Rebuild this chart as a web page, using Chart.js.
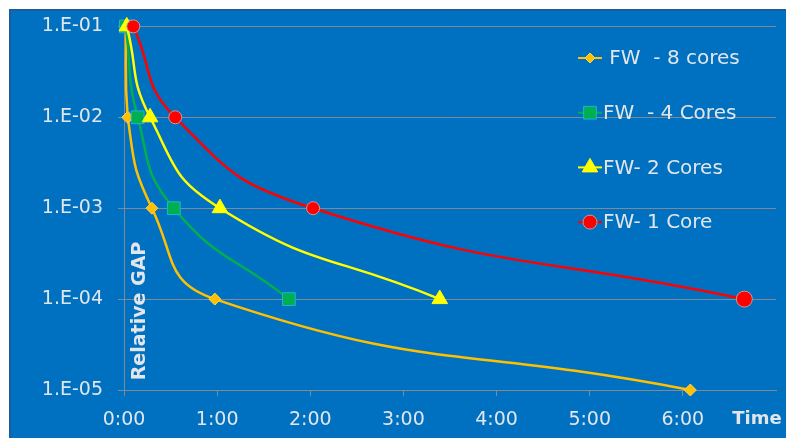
<!DOCTYPE html>
<html>
<head>
<meta charset="utf-8">
<script src="https://cdn.jsdelivr.net/npm/chart.js@4.4.1/dist/chart.umd.min.js"></script>
<style>
  html, body { margin: 0; padding: 0; background: #fff; }
  #wrap { position: relative; width: 786px; height: 438px; overflow: hidden; }
  #panel {
    position: absolute; left: 9px; top: 9px; width: 777px; height: 429px;
    box-sizing: border-box; background: #0070C0;
    border-left: 2px solid #1b5d9c; border-top: 2px solid #1b5d9c;
  }
  canvas { position: absolute; left: 0; top: 0; }
</style>
</head>
<body>
<div id="wrap">
  <div id="panel"></div>
  <canvas id="gapChart" width="786" height="438"></canvas>
</div>
<script>
// ── Data (time in hours, relative gap) ───────────────────────
const seriesNames = [' FW  - 8 cores', 'FW  - 4 Cores', 'FW- 2 Cores', 'FW- 1 Core'];
const time8 = [0.02, 0.04, 0.30, 0.975, 6.08];
const gap8  = [1e-1, 1e-2, 1e-3, 1e-4, 1e-5];
const time4 = [0.02, 0.147, 0.535, 1.77];
const gap4  = [1e-1, 1e-2, 1e-3, 1e-4];
const time2 = [0.03, 0.28, 1.03, 3.39];
const gap2  = [1e-1, 1e-2, 1e-3, 1e-4];
const time1 = [0.10, 0.55, 2.03, 6.66];
const gap1  = [1e-1, 1e-2, 1e-3, 1e-4];

const yTicks      = [1e-5, 1e-4, 1e-3, 1e-2, 1e-1];
const xTicks      = [0, 1, 2, 3, 4, 5, 6];
const xTickLabels = ['0:00', '1:00', '2:00', '3:00', '4:00', '5:00', '6:00'];

const TEXT = '#e2e6ea';
const GRID = '#7f8a96';
const FONT = '"DejaVu Sans", Verdana, sans-serif';

const pts = (xs, ys) => xs.map((x, i) => ({ x: x, y: ys[i] }));

// ── Legend + axis captions drawn on the canvas ───────────────
const legendRadius = [5, 9, 9, 7];
const captions = {
  id: 'captions',
  afterDatasetsDraw(chart) {
    const ctx = chart.ctx;
    chart.data.datasets.forEach((ds, i) => {
      const y = 58 + i * 54.7;
      ctx.save();
      ctx.strokeStyle = ds.borderColor;
      ctx.lineWidth = 2;
      ctx.beginPath();
      ctx.moveTo(578, y);
      ctx.lineTo(602, y);
      ctx.stroke();
      ctx.fillStyle = ds.pointBackgroundColor;
      ctx.strokeStyle = ds.pointBorderColor;
      ctx.lineWidth = 1;
      Chart.helpers.drawPoint(ctx, {
        pointStyle: ds.pointStyle, radius: legendRadius[i], rotation: 0, borderWidth: 1
      }, 590, y);
      ctx.fillStyle = TEXT;
      ctx.font = '20px ' + FONT;
      ctx.textBaseline = 'middle';
      ctx.textAlign = 'left';
      ctx.fillText(seriesNames[i], 603, y + 1);
      ctx.restore();
    });

    ctx.save();
    ctx.fillStyle = TEXT;
    ctx.textBaseline = 'middle';
    ctx.textAlign = 'center';
    ctx.font = 'bold 18px ' + FONT;
    ctx.fillText('Time', 757, 419);
    ctx.font = 'bold 19px ' + FONT;
    ctx.translate(140, 311);
    ctx.rotate(-Math.PI / 2);
    ctx.fillText('Relative GAP', 0, 0);
    ctx.restore();
  }
};

new Chart(document.getElementById('gapChart'), {
  type: 'line',
  data: {
    datasets: [
      {
        label: seriesNames[0], data: pts(time8, gap8), order: 3,
        borderColor: '#FFC000', borderWidth: 2.5,
        pointStyle: 'rectRot', pointRadius: 6,
        pointBackgroundColor: '#FFC000', pointBorderColor: '#f7d25a', pointBorderWidth: 1
      },
      {
        label: seriesNames[1], data: pts(time4, gap4), order: 2,
        borderColor: '#00B050', borderWidth: 2.5,
        pointStyle: 'rect', pointRadius: 9,
        pointBackgroundColor: '#00B050', pointBorderColor: '#1fb4d8', pointBorderWidth: 1
      },
      {
        label: seriesNames[2], data: pts(time2, gap2), order: 1,
        borderColor: '#FFFF00', borderWidth: 2.5,
        pointStyle: 'triangle', pointRadius: 9,
        pointBackgroundColor: '#FFFF00', pointBorderColor: '#FFFF00', pointBorderWidth: 1
      },
      {
        label: seriesNames[3], data: pts(time1, gap1), order: 0,
        borderColor: '#FF0000', borderWidth: 2.5,
        pointStyle: 'circle',
        pointRadius: (c) => c.dataIndex === time1.length - 1 ? 8 : 6.5,
        pointBackgroundColor: '#FF0000', pointBorderColor: '#c89a9a', pointBorderWidth: 1
      }
    ]
  },
  options: {
    responsive: false,
    animation: false,
    clip: false,
    layout: { padding: { left: 0, top: 25, right: 8, bottom: 0 } },
    elements: { line: { tension: 0.5, fill: false } },
    plugins: { legend: { display: false }, tooltip: { enabled: false } },
    scales: {
      x: {
        type: 'linear', min: 0, max: 7,
        afterBuildTicks: (s) => { s.ticks = xTicks.map(v => ({ value: v })); },
        afterFit: (s) => { s.height = 48; },
        grid: { drawOnChartArea: false, color: GRID, tickLength: 6 },
        border: { color: GRID },
        ticks: {
          color: TEXT, padding: 13, maxRotation: 0,
          font: { family: FONT, size: 19 },
          callback: (v, i) => xTickLabels[i]
        }
      },
      y: {
        type: 'logarithmic', min: 1e-5, max: 1e-1,
        afterBuildTicks: (s) => { s.ticks = yTicks.map(v => ({ value: v })); },
        afterFit: (s) => { s.width = 124; },
        grid: { color: GRID, tickLength: 6 },
        border: { color: GRID },
        ticks: {
          color: TEXT, padding: 15,
          font: { family: FONT, size: 19 },
          callback: (v) => '1.E-' + String(Math.round(-Math.log10(v))).padStart(2, '0')
        }
      }
    }
  },
  plugins: [captions]
});
</script>
</body>
</html>
